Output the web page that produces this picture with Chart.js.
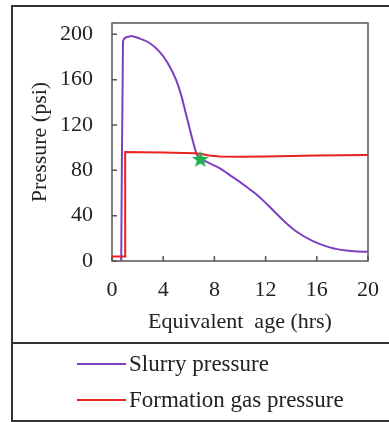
<!DOCTYPE html>
<html>
<head>
<meta charset="utf-8">
<script src="https://cdn.jsdelivr.net/npm/chart.js@4.4.1/dist/chart.umd.min.js"></script>
<style>
  html, body { margin: 0; padding: 0; background: #fff; }
  #wrap { width: 389px; height: 422px; }
</style>
</head>
<body>
<div id="wrap"><canvas id="chart"></canvas></div>
<script>
// slurry pressure vs equivalent age
const slurryAge = [0.72, 0.86, 1.2, 1.46, 2.12, 2.9, 3.69, 4.34, 5.0, 5.39, 5.73, 6.04, 6.43, 6.6, 6.85, 7.2, 7.6, 8.4, 9.18, 9.7, 10.5, 11.2, 11.8, 12.6, 13.6, 14.4, 15.7, 17.0, 18.3, 19.2, 20.0];
const slurryPsi = [0, 194, 197.6, 198.5, 196.5, 192.6, 185, 175, 160, 147, 132, 118, 101, 94.5, 90.5, 88.5, 86.3, 82, 76, 72, 65.5, 59.5, 53.5, 44.5, 33.5, 26, 17.5, 12, 9.2, 8.4, 8.2];

// formation gas pressure
const gasAge = [0, 1.02, 1.03, 4.0, 6.5, 7.0, 7.6, 8.4, 10, 12, 16, 20];
const gasPsi = [4, 4, 96.2, 95.8, 95, 94.5, 93, 92.2, 92, 92.3, 93, 93.5];

// crossing marker
const markAge = [6.9];
const markPsi = [90];

const ageTicks = [0, 4, 8, 12, 16, 20];
const psiTicks = [0, 40, 80, 120, 160, 200];

const serif = '"Liberation Serif", "Times New Roman", serif';
const textColor = '#222';

const toXY = (xs, ys) => xs.map((x, i) => ({ x: x, y: ys[i] }));

// filled five point star for the marker
const starImg = document.createElement('canvas');
starImg.width = 18;
starImg.height = 18;
(() => {
    const c = starImg.getContext('2d');
    c.fillStyle = '#1fae4b';
    c.beginPath();
    for (let i = 0; i < 10; i++) {
        const r = i % 2 === 0 ? 9 : 3.8;
        const a = -Math.PI / 2 + i * Math.PI / 5;
        const px = 9 + r * Math.cos(a), py = 9.7 + r * Math.sin(a);
        i === 0 ? c.moveTo(px, py) : c.lineTo(px, py);
    }
    c.closePath();
    c.fill();
})();

// plot frame with inward tick marks
const framePlugin = {
    id: 'frame',
    beforeDatasetsDraw(chart) {
        const { ctx, chartArea: a, scales } = chart;
        ctx.save();
        ctx.strokeStyle = '#555';
        ctx.lineWidth = 1.5;
        ctx.strokeRect(a.left, a.top, a.right - a.left, a.bottom - a.top);
        ctx.beginPath();
        ageTicks.forEach(v => {
            const x = scales.x.getPixelForValue(v);
            ctx.moveTo(x, a.bottom);
            ctx.lineTo(x, a.bottom - 5);
        });
        psiTicks.forEach(v => {
            const y = scales.y.getPixelForValue(v);
            ctx.moveTo(a.left, y);
            ctx.lineTo(a.left + 5, y);
        });
        ctx.stroke();
        ctx.restore();
    }
};

// outer box and legend below the plot
const boxLegendPlugin = {
    id: 'boxLegend',
    afterDraw(chart) {
        const { ctx } = chart;
        ctx.save();
        ctx.strokeStyle = '#333';
        ctx.lineWidth = 2;
        ctx.beginPath();
        ctx.moveTo(390, 6);
        ctx.lineTo(12, 6);
        ctx.lineTo(12, 421);
        ctx.lineTo(390, 421);
        ctx.moveTo(12, 343);
        ctx.lineTo(390, 343);
        ctx.stroke();

        ctx.font = '23px ' + serif;
        ctx.fillStyle = textColor;
        ctx.textBaseline = 'middle';
        const rows = [364, 400];
        [0, 1].forEach((di, i) => {
            const ds = chart.data.datasets[di];
            ctx.strokeStyle = ds.borderColor;
            ctx.lineWidth = 2;
            ctx.beginPath();
            ctx.moveTo(77, rows[i]);
            ctx.lineTo(126, rows[i]);
            ctx.stroke();
            ctx.fillText(ds.label, 129, rows[i] + 1);
        });
        ctx.restore();
    }
};

new Chart(document.getElementById('chart'), {
    type: 'line',
    data: {
        datasets: [
            {
                label: 'Slurry pressure',
                data: toXY(slurryAge, slurryPsi),
                borderColor: '#7c3fc4',
                borderWidth: 2,
                pointRadius: 0,
                cubicInterpolationMode: 'monotone',
                order: 2
            },
            {
                label: 'Formation gas pressure',
                data: toXY(gasAge, gasPsi),
                borderColor: '#e8231f',
                borderWidth: 2,
                pointRadius: 0,
                tension: 0,
                order: 1
            },
            {
                label: 'Crossing',
                data: toXY(markAge, markPsi),
                showLine: false,
                pointStyle: starImg,
                pointRadius: 9,
                order: 0
            }
        ]
    },
    options: {
        responsive: true,
        maintainAspectRatio: false,
        animation: false,
        layout: { padding: { left: 0, top: 23, right: 21, bottom: 0 } },
        plugins: {
            legend: { display: false },
            tooltip: { enabled: false }
        },
        scales: {
            x: {
                type: 'linear',
                min: 0,
                max: 20,
                afterBuildTicks: s => { s.ticks = ageTicks.map(v => ({ value: v })); },
                afterFit: s => { s.height = 161; s.paddingLeft = 0; s.paddingRight = 0; },
                grid: { display: false, drawTicks: false },
                border: { display: false },
                ticks: { font: { family: serif, size: 22 }, color: textColor, padding: 16, maxRotation: 0 },
                title: {
                    display: true,
                    text: 'Equivalent  age (hrs)',
                    font: { family: serif, size: 22 },
                    color: textColor,
                    padding: { top: 0, bottom: 87 }
                }
            },
            y: {
                type: 'linear',
                min: 0,
                max: 210,
                afterBuildTicks: s => { s.ticks = psiTicks.map(v => ({ value: v })); },
                afterFit: s => { s.width = 112; s.paddingTop = 0; s.paddingBottom = 0; },
                grid: { display: false, drawTicks: false },
                border: { display: false },
                ticks: { font: { family: serif, size: 22 }, color: textColor, padding: 19 },
                title: {
                    display: true,
                    text: 'Pressure (psi)',
                    font: { family: serif, size: 22 },
                    color: textColor,
                    padding: { top: 27, bottom: 0 }
                }
            }
        }
    },
    plugins: [framePlugin, boxLegendPlugin]
});
</script>
</body>
</html>
